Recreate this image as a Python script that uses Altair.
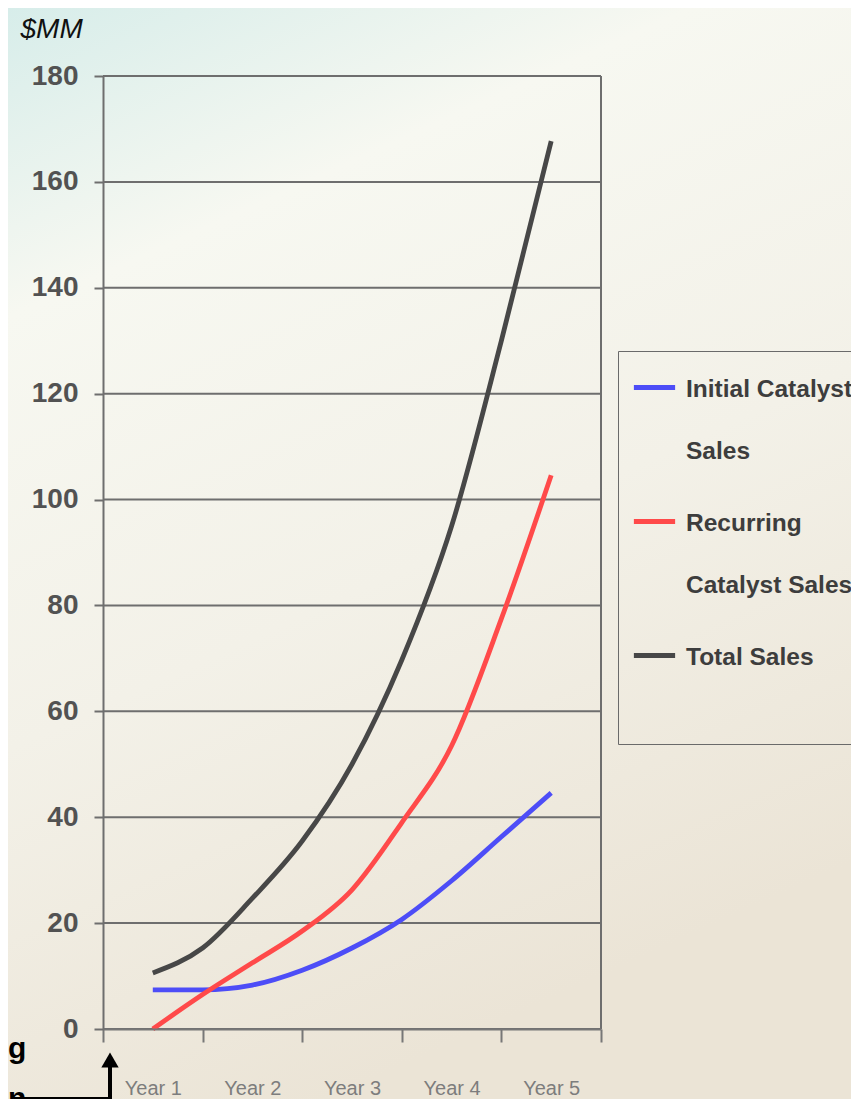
import altair as alt
import pandas as pd

# ---- data ----
periods = [1, 1.5, 2, 2.5, 3, 3.5, 4, 4.5, 5]          # year position (half-year steps)
initial_sales = [7.4, 7.4, 8.3, 11.1, 15.3, 20.7, 28.0, 36.3, 44.6]
recurring_sales = [0.0, 6.5, 12.5, 18.5, 26.3, 39.0, 53.5, 77.5, 104.6]
total_sales = [10.6, 15.3, 24.7, 35.5, 50.0, 69.7, 95.0, 130.0, 167.7]
series_names = ["Initial Catalyst Sales", "Recurring Catalyst Sales", "Total Sales"]
series_colors = ["#4d4df7", "#ff4a4a", "#474747"]
year_labels = ["Year 1", "Year 2", "Year 3", "Year 4", "Year 5"]
y_ticks = [0, 20, 40, 60, 80, 100, 120, 140, 160, 180]
side_texts = ["g", "n"]   # visible fragments of a slide callout at the bottom-left

rows = []
for name, vals in zip(series_names, [initial_sales, recurring_sales, total_sales]):
    for p, v in zip(periods, vals):
        rows.append({"period": p, "value": v, "series": name})
df = pd.DataFrame(rows)

W, H = 498, 953
FONT = "Liberation Sans, Arial, sans-serif"
GRID = "#6e6e6e"
DY = -10   # shared vertical nudge of guide labels (legend labels sit a little above)

x_tick_vals = [0.5 + i for i in range(len(year_labels) + 1)]
label_map = "{" + ",".join(f"'{v}':'{l}'" for v, l in zip(x_tick_vals, year_labels)) + "}"

x_scale = alt.Scale(domain=[0.5, 5.5], nice=False, zero=False)
y_scale = alt.Scale(domain=[0, 180], nice=False)

bg = alt.Chart(pd.DataFrame({"a": [0]})).mark_rect(
    fill=alt.Gradient(
        gradient="linear", x1=0, y1=0, x2=0.35, y2=1,
        stops=[alt.GradientStop(color="#d7edea", offset=0),
               alt.GradientStop(color="#f7f8f1", offset=0.25),
               alt.GradientStop(color="#f3f1e8", offset=0.6),
               alt.GradientStop(color="#ebe4d6", offset=1)]),
).encode(x=alt.value(-95), x2=alt.value(W + 260), y=alt.value(-68), y2=alt.value(H + 80))

grid = alt.Chart(pd.DataFrame({"v": y_ticks})).mark_rule(
    color=GRID, strokeWidth=2).encode(
    y=alt.Y("v:Q", scale=y_scale), x=alt.value(0), x2=alt.value(W))

right_edge = alt.Chart(pd.DataFrame({"p": [x_tick_vals[-1]]})).mark_rule(
    color=GRID, strokeWidth=2).encode(
    x=alt.X("p:Q", scale=x_scale), y=alt.value(0), y2=alt.value(H))

lines = alt.Chart(df).mark_line(strokeWidth=4.8, interpolate="monotone", clip=False).encode(
    x=alt.X("period:Q", scale=x_scale,
            axis=alt.Axis(values=x_tick_vals, grid=False, title=None, zindex=1,
                          labelExpr=f"({label_map})[datum.value] || ''",
                          labelOffset=W / 10, tickSize=13, tickColor="#777", tickWidth=2,
                          domainColor="#777", domainWidth=2,
                          labelFont=FONT, labelFontSize=20, labelColor="#7d7d7d",
                          labelPadding=36 - DY, labelBaseline="top", labelFlush=False)),
    y=alt.Y("value:Q", scale=y_scale,
            axis=alt.Axis(values=y_ticks, grid=False, zindex=1,
                          tickSize=9, tickColor=GRID, tickWidth=2,
                          domainColor=GRID, domainWidth=2,
                          labelFont=FONT, labelFontSize=28, labelFontWeight="bold",
                          labelColor="#525252", labelPadding=16, labelOffset=-DY,
                          title="$MM", titleAngle=0, titleAlign="left",
                          titleBaseline="alphabetic",
                          titleX=-83, titleY=-39, titleFont=FONT,
                          titleFontSize=28, titleFontStyle="italic",
                          titleFontWeight="normal", titleColor="#111")),
    color=alt.Color("series:N",
                    scale=alt.Scale(domain=series_names, range=series_colors),
                    legend=alt.Legend(
                        title=None, orient="none", legendX=515, legendY=275,
                        symbolType="stroke", symbolSize=1700, symbolStrokeWidth=5,
                        labelFont=FONT, labelFontSize=24.5, labelFontWeight="bold",
                        labelColor="#3d3d3d", labelLimit=400, labelOffset=8,
                        labelExpr="datum.label == 'Initial Catalyst Sales' ? ['Initial Catalyst', 'Sales'] : datum.label == 'Recurring Catalyst Sales' ? ['Recurring', 'Catalyst Sales'] : [datum.label, '']",
                        labelBaseline="top",
                        strokeColor="#6a6a6a", padding=13, rowPadding=35,
                        fillColor="transparent")),
)

# slide callout arrow and text fragments at the bottom-left corner
arrow_shaft = alt.Chart(pd.DataFrame({"a": [0]})).mark_rule(
    color="black", strokeWidth=4).encode(
    x=alt.value(7), y=alt.value(990), y2=alt.value(1023))
arrow_base = alt.Chart(pd.DataFrame({"a": [0]})).mark_rule(
    color="black", strokeWidth=4).encode(
    x=alt.value(-89), x2=alt.value(9), y=alt.value(1023))
arrow_head = alt.Chart(pd.DataFrame({"a": [0]})).mark_point(
    shape="triangle-up", filled=True, color="black", size=300, opacity=1).encode(
    x=alt.value(7), y=alt.value(984))
frag_g = alt.Chart(pd.DataFrame({"t": [side_texts[0]]})).mark_text(
    font=FONT, fontSize=30, fontWeight="bold", color="black", align="left",
    baseline="alphabetic").encode(text="t:N", x=alt.value(-95), y=alt.value(982))
frag_n = alt.Chart(pd.DataFrame({"t": [side_texts[1]]})).mark_text(
    font=FONT, fontSize=30, fontWeight="bold", color="black", align="left",
    baseline="alphabetic").encode(text="t:N", x=alt.value(-95), y=alt.value(1032))

chart = alt.layer(bg, grid, right_edge, lines, arrow_shaft, arrow_base, arrow_head,
                  frag_g, frag_n).properties(
    width=W, height=H,
    autosize=alt.AutoSizeParams(type="none"),
    padding={"left": 95, "top": 68, "right": 250, "bottom": 70},
).configure_view(stroke=None).configure(
    background="#f3f1e8",
    style={"guide-label": {"lineHeight": 62, "dy": DY}},
)

chart.save("out.html", embed_options={"renderer": "svg", "actions": False})
